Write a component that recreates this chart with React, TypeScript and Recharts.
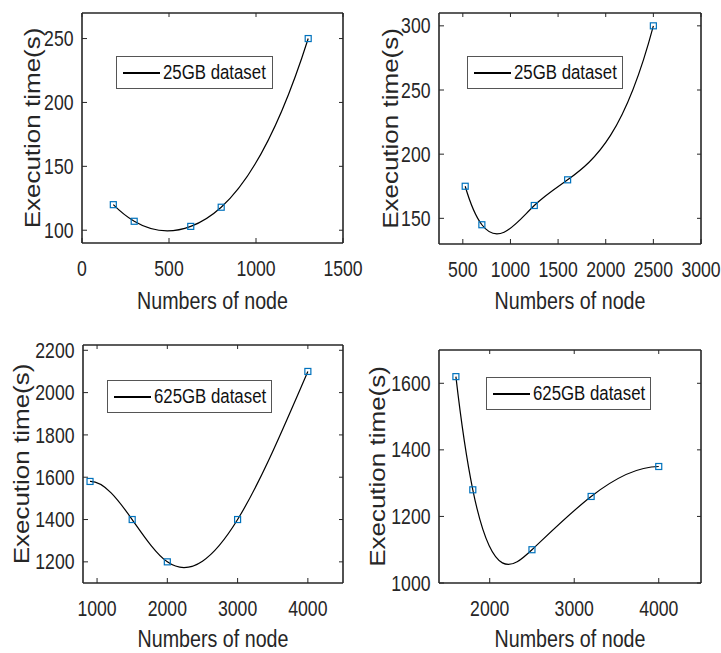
import React from "react";
import { LineChart, Line, XAxis, YAxis, Legend, Label } from "recharts";

// 25GB runs
const nodes25a = [180, 300, 625, 800, 1300];
const time25a = [120, 107, 103, 118, 250];
const nodes25b = [525, 700, 1250, 1600, 2500];
const time25b = [175, 145, 160, 180, 300];

// 625GB runs
const nodes625a = [900, 1500, 2000, 3000, 4000];
const time625a = [1580, 1400, 1200, 1400, 2100];
const nodes625b = [1600, 1800, 2500, 3200, 4000];
const time625b = [1620, 1280, 1100, 1260, 1350];

const xTicks25a = [0, 500, 1000, 1500];
const yTicks25a = [100, 150, 200, 250];
const xTicks25b = [500, 1000, 1500, 2000, 2500, 3000];
const yTicks25b = [150, 200, 250, 300];
const xTicks625a = [1000, 2000, 3000, 4000];
const yTicks625a = [1200, 1400, 1600, 1800, 2000, 2200];
const xTicks625b = [2000, 3000, 4000];
const yTicks625b = [1000, 1200, 1400, 1600];

const sans = '"Liberation Sans", Arial, sans-serif';
const ink = "#262626";
const squeeze = 0.82; // the figure text is horizontally condensed

// not-a-knot cubic spline slopes (same end conditions as matlab's spline)
function splineSlopes(x: number[], y: number[]) {
    const n = x.length;
    const dx: number[] = [];
    const del: number[] = [];
    for (let i = 0; i < n - 1; i++) {
        dx.push(x[i + 1] - x[i]);
        del.push((y[i + 1] - y[i]) / dx[i]);
    }
    const a = new Array(n).fill(0);
    const b = new Array(n).fill(0);
    const c = new Array(n).fill(0);
    const r = new Array(n).fill(0);
    const x31 = x[2] - x[0];
    b[0] = dx[1];
    c[0] = x31;
    r[0] = ((dx[0] + 2 * x31) * dx[1] * del[0] + dx[0] * dx[0] * del[1]) / x31;
    for (let i = 1; i < n - 1; i++) {
        a[i] = dx[i];
        b[i] = 2 * (dx[i] + dx[i - 1]);
        c[i] = dx[i - 1];
        r[i] = 3 * (dx[i] * del[i - 1] + dx[i - 1] * del[i]);
    }
    const xn = x[n - 1] - x[n - 3];
    a[n - 1] = xn;
    b[n - 1] = dx[n - 3];
    r[n - 1] = (dx[n - 2] * dx[n - 2] * del[n - 3] + (2 * xn + dx[n - 2]) * dx[n - 3] * del[n - 2]) / xn;
    for (let i = 1; i < n; i++) {
        const m = a[i] / b[i - 1];
        b[i] -= m * c[i - 1];
        r[i] -= m * r[i - 1];
    }
    const d = new Array(n).fill(0);
    d[n - 1] = r[n - 1] / b[n - 1];
    for (let i = n - 2; i >= 0; i--) d[i] = (r[i] - c[i] * d[i + 1]) / b[i];
    return d;
}

function splineCurve(context: any) {
    let xs: number[] = [];
    let ys: number[] = [];
    return {
        areaStart() {},
        areaEnd() {},
        lineStart() {
            xs = [];
            ys = [];
        },
        point(x: number, y: number) {
            xs.push(+x);
            ys.push(+y);
        },
        lineEnd() {
            const n = xs.length;
            if (!n) return;
            context.moveTo(xs[0], ys[0]);
            if (n < 4) {
                for (let i = 1; i < n; i++) context.lineTo(xs[i], ys[i]);
                return;
            }
            const d = splineSlopes(xs, ys);
            for (let i = 0; i < n - 1; i++) {
                const h = xs[i + 1] - xs[i];
                context.bezierCurveTo(
                    xs[i] + h / 3, ys[i] + (d[i] * h) / 3,
                    xs[i + 1] - h / 3, ys[i + 1] - (d[i + 1] * h) / 3,
                    xs[i + 1], ys[i + 1]
                );
            }
        },
    };
}

function SquareDot(props: any) {
    const { cx, cy, index } = props;
    if (cx == null || cy == null) return null;
    return (
        <rect
            key={`sq-${index}`}
            x={cx - 3}
            y={cy - 3}
            width={6}
            height={6}
            fill="none"
            stroke="#0072BD"
            strokeWidth={1.2}
        />
    );
}

function XTick({ x, y, payload }: any) {
    return (
        <text
            transform={`translate(${x} ${y}) scale(${squeeze} 1)`}
            textAnchor="middle"
            dy="0.71em"
            fill={ink}
            fontFamily={sans}
            fontSize={21.5}
        >
            {payload.value}
        </text>
    );
}

function YTick({ x, y, payload }: any) {
    return (
        <text
            transform={`translate(${x} ${y}) scale(${squeeze} 1)`}
            textAnchor="end"
            dy="0.355em"
            fill={ink}
            fontFamily={sans}
            fontSize={21.5}
        >
            {payload.value}
        </text>
    );
}

function NoTick() {
    return <g />;
}

function LegendBox({ payload }: any) {
    const item = (payload || [])[0];
    if (!item) return null;
    return (
        <div
            style={{
                boxSizing: "border-box",
                width: "100%",
                height: "100%",
                border: "1px solid #555",
                background: "#fff",
                display: "flex",
                alignItems: "center",
                paddingLeft: 6,
                whiteSpace: "nowrap",
                overflow: "hidden",
            }}
        >
            <span style={{ display: "inline-block", flex: "none", width: 37, height: 2, background: "#000" }} />
            <span
                style={{
                    marginLeft: 3,
                    fontFamily: sans,
                    fontSize: 20.5,
                    lineHeight: 1,
                    color: "#111",
                    transform: `scaleX(${squeeze})`,
                    transformOrigin: "left center",
                }}
            >
                {item.value}
            </span>
        </div>
    );
}

type PanelProps = {
    name: string;
    nodes: number[];
    times: number[];
    xTicks: number[];
    yTicks: number[];
    xDomain: [number, number];
    yDomain: [number, number];
    left: number;
    top: number;
    width: number;
    height: number;
    margin: { top: number; right: number; bottom: number; left: number };
    legendPos: { left: number; top: number; width: number };
    xLabelGap: number;
    yLabelGap: number;
};

function Panel(p: PanelProps) {
    const data = p.nodes.map((n, i) => ({ nodes: n, time: p.times[i] }));
    const axisLine = { stroke: ink, strokeWidth: 1.6 };
    const tickLine = { stroke: ink, strokeWidth: 1 };

    return (
        <div style={{ position: "absolute", left: p.left, top: p.top }}>
            <LineChart width={p.width} height={p.height} data={data} margin={p.margin}>
                <XAxis
                    xAxisId="b"
                    type="number"
                    dataKey="nodes"
                    domain={p.xDomain}
                    ticks={p.xTicks}
                    allowDataOverflow
                    interval={0}
                    height={1}
                    tickSize={-5}
                    tickMargin={23}
                    axisLine={axisLine}
                    tickLine={tickLine}
                    tick={XTick}
                >
                    <Label
                        content={({ viewBox }: any) => {
                            const cx = viewBox.x + viewBox.width / 2;
                            const by = viewBox.y + p.xLabelGap;
                            return (
                                <text
                                    transform={`translate(${cx} ${by}) scale(${squeeze} 1)`}
                                    textAnchor="middle"
                                    fill={ink}
                                    fontFamily={sans}
                                    fontSize={24}
                                >
                                    Numbers of node
                                </text>
                            );
                        }}
                    />
                </XAxis>
                <XAxis
                    xAxisId="t"
                    orientation="top"
                    type="number"
                    dataKey="nodes"
                    domain={p.xDomain}
                    ticks={p.xTicks}
                    allowDataOverflow
                    interval={0}
                    height={1}
                    tickSize={-4}
                    axisLine={axisLine}
                    tickLine={tickLine}
                    tick={NoTick}
                />
                <YAxis
                    yAxisId="l"
                    type="number"
                    domain={p.yDomain}
                    ticks={p.yTicks}
                    allowDataOverflow
                    interval={0}
                    width={1}
                    tickSize={-5}
                    tickMargin={13.5}
                    axisLine={axisLine}
                    tickLine={tickLine}
                    tick={YTick}
                >
                    <Label
                        content={({ viewBox }: any) => {
                            const bx = viewBox.x + viewBox.width - p.yLabelGap;
                            const cy = viewBox.y + viewBox.height / 2;
                            return (
                                <text
                                    transform={`translate(${bx} ${cy}) scale(0.84 1) rotate(-90)`}
                                    textAnchor="middle"
                                    fill={ink}
                                    fontFamily={sans}
                                    fontSize={26}
                                >
                                    Execution time(s)
                                </text>
                            );
                        }}
                    />
                </YAxis>
                <YAxis
                    yAxisId="r"
                    orientation="right"
                    type="number"
                    domain={p.yDomain}
                    ticks={p.yTicks}
                    allowDataOverflow
                    interval={0}
                    width={1}
                    tickSize={-4}
                    axisLine={axisLine}
                    tickLine={tickLine}
                    tick={NoTick}
                />
                <Legend
                    layout="horizontal"
                    verticalAlign="middle"
                    align="center"
                    wrapperStyle={{
                        left: p.legendPos.left,
                        top: p.legendPos.top,
                        width: p.legendPos.width,
                        height: 33,
                    }}
                    content={LegendBox}
                />
                <Line
                    xAxisId="t"
                    yAxisId="r"
                    dataKey="time"
                    stroke="none"
                    dot={false}
                    legendType="none"
                    isAnimationActive={false}
                />
                <Line
                    xAxisId="b"
                    yAxisId="l"
                    type={splineCurve as any}
                    dataKey="time"
                    name={p.name}
                    stroke="#000"
                    strokeWidth={1.2}
                    dot={SquareDot}
                    activeDot={false}
                    isAnimationActive={false}
                />
            </LineChart>
        </div>
    );
}

export default function App() {
    return (
        <div style={{ position: "absolute", left: 0, top: 0, width: 721, height: 653, background: "#fff" }}>
            <Panel
                name="25GB dataset"
                nodes={nodes25a}
                times={time25a}
                xTicks={xTicks25a}
                yTicks={yTicks25a}
                xDomain={[0, 1500]}
                yDomain={[90, 270]}
                left={0}
                top={0}
                width={400}
                height={320}
                margin={{ top: 12, left: 81, right: 56, bottom: 76 }}
                legendPos={{ left: 116, top: 56, width: 157 }}
                xLabelGap={66}
                yLabelGap={42}
            />
            <Panel
                name="25GB dataset"
                nodes={nodes25b}
                times={time25b}
                xTicks={xTicks25b}
                yTicks={yTicks25b}
                xDomain={[250, 3000]}
                yDomain={[130, 310]}
                left={360}
                top={0}
                width={361}
                height={320}
                margin={{ top: 12, left: 78, right: 19, bottom: 75 }}
                legendPos={{ left: 107, top: 56, width: 156 }}
                xLabelGap={65}
                yLabelGap={41}
            />
            <Panel
                name="625GB dataset"
                nodes={nodes625a}
                times={time625a}
                xTicks={xTicks625a}
                yTicks={yTicks625a}
                xDomain={[800, 4500]}
                yDomain={[1100, 2225]}
                left={0}
                top={320}
                width={360}
                height={333}
                margin={{ top: 24, left: 82, right: 16, bottom: 69 }}
                legendPos={{ left: 107, top: 60, width: 165 }}
                xLabelGap={63.5}
                yLabelGap={54}
            />
            <Panel
                name="625GB dataset"
                nodes={nodes625b}
                times={time625b}
                xTicks={xTicks625b}
                yTicks={yTicks625b}
                xDomain={[1400, 4500]}
                yDomain={[1000, 1700]}
                left={360}
                top={320}
                width={361}
                height={333}
                margin={{ top: 29, left: 78, right: 19, bottom: 69 }}
                legendPos={{ left: 126, top: 57, width: 165 }}
                xLabelGap={63.5}
                yLabelGap={54}
            />
        </div>
    );
}
